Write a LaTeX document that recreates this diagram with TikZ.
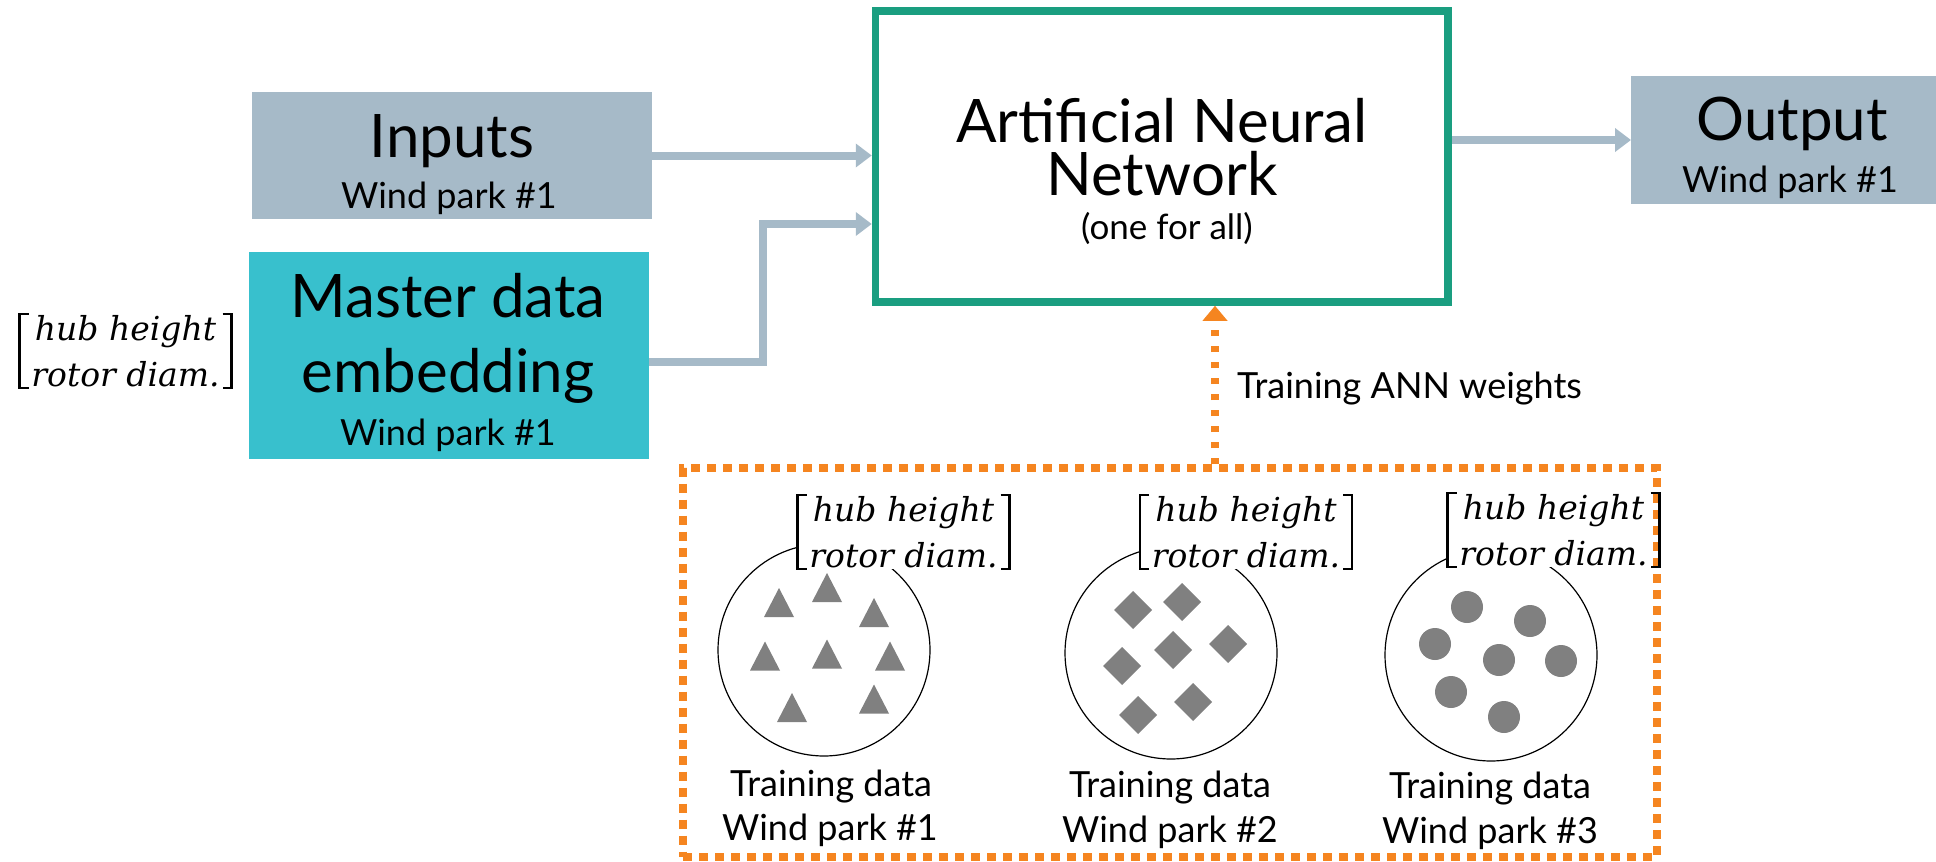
\documentclass[tikz,border=0pt]{standalone}
\usepackage{fontspec}
\setmainfont{Lato}
\newfontfamily\bracketfont{DejaVu Serif}
\usetikzlibrary{arrows.meta}
\definecolor{boxgray}{RGB}{166,186,200}
\definecolor{boxcyan}{RGB}{56,192,205}
\definecolor{anngreen}{RGB}{26,158,128}
\definecolor{trainorange}{RGB}{245,133,32}
\definecolor{shapegray}{RGB}{128,128,128}
\newcommand\drawbrackets[1]{%
  \draw[brkline] ([xshift=9pt]#1.north west) -- (#1.north west) -- (#1.south west) -- ([xshift=9pt]#1.south west);
  \draw[brkline] ([xshift=-9pt]#1.north east) -- (#1.north east) -- (#1.south east) -- ([xshift=-9pt]#1.south east);}
\tikzset{
  fillbox/.style={inner sep=0pt, outer sep=0pt},
  bigtext/.style={anchor=base, inner sep=0pt, font=\fontsize{60}{60}\selectfont},
  smalltext/.style={anchor=base, inner sep=0pt, font=\fontsize{36}{36}\selectfont},
  flow/.style={draw=boxgray, line width=8pt, -{Triangle[length=16pt,width=23pt]}},
  trainarrow/.style={draw=trainorange, line width=8pt, dash pattern=on 6pt off 10pt, -{Triangle[length=15pt,width=24pt]}},
  bracketnode/.style={inner sep=0pt, outer sep=0pt, minimum width=212pt, minimum height=74pt, align=center, font=\bracketfont\itshape\fontsize{33}{46}\selectfont},
  brkline/.style={draw=black, line width=2.5pt, line cap=butt, line join=miter},
  ring/.style={draw=black, line width=1.2pt, circle, minimum size=212pt, inner sep=0pt},
  trimark/.pic={\fill[shapegray] (-15,14.5) -- (15,14.5) -- (0,-14.5) -- cycle;},
  diamark/.pic={\fill[shapegray] (-19,0) -- (0,-19) -- (19,0) -- (0,19) -- cycle;},
  dotmark/.pic={\fill[shapegray] (0,0) circle[radius=16pt];}
}
\begin{document}
\begin{tikzpicture}[x=1pt,y=-1pt]
\useasboundingbox (0,0) rectangle (1936,862);
\clip (0,0) rectangle (1936,862);

% input boxes
\node[fillbox, fill=boxgray, minimum width=400pt, minimum height=127pt] (inputs) at (452,155.5) {};
\node[bigtext] (inputsT) at (452,157) {Inputs};
\node[smalltext] (inputsS) at (449,208) {Wind park \#1};

\node[fillbox, fill=boxcyan, minimum width=400pt, minimum height=207pt] (master) at (449,355.5) {};
\node[bigtext, align=center, font=\fontsize{60}{75}\selectfont] (masterT) at (448,392) {Master data\\embedding};
\node[smalltext] (masterS) at (448,445) {Wind park \#1};

\node[bracketnode] (brk0) at (125.5,351) {hub height\\rotor diam.};
\drawbrackets{brk0}

% ANN
\node[draw=anngreen, line width=7.5pt, minimum width=572.5pt, minimum height=291pt, inner sep=0pt] (ann) at (1161.75,156.5) {};
\node[bigtext, align=center, font=\fontsize{60}{53}\selectfont] (annT) at (1162,195) {Artificial Neural\\Network};
\node[anchor=base, inner sep=0pt, font=\fontsize{35}{35}\selectfont] (annS) at (1167,239) {(one for all)};

% output
\node[fillbox, fill=boxgray, minimum width=326pt, minimum height=128pt] (output) at (1794,140) {};
\node[bigtext] (outputT) at (1792,140) {Output};
\node[smalltext] (outputS) at (1790,192) {Wind park \#1};

% flows
\draw[flow] (inputs.east) -- (inputs.east -| ann.west);
\draw[flow] ([yshift=-6.5pt]master.east) -- ++(114,0) |- ([yshift=-67.5pt]ann.west);
\draw[flow] (output.west -| ann.east) -- (output.west);

% training data
\node[ring] (ring1) at (824,650) {};
\node[ring] (ring2) at (1171,653) {};
\node[ring] (ring3) at (1491,655) {};

\pic at (779,602.5) {trimark};
\pic at (827,587.5) {trimark};
\pic at (874,612.5) {trimark};
\pic at (765,656) {trimark};
\pic at (827,654) {trimark};
\pic at (890,656) {trimark};
\pic at (792,707.5) {trimark};
\pic at (874,699) {trimark};

\pic at (1133,610) {diamark};
\pic at (1182,602) {diamark};
\pic at (1228,644) {diamark};
\pic at (1173,650) {diamark};
\pic at (1122,666) {diamark};
\pic at (1193,702) {diamark};
\pic at (1138,715) {diamark};

\pic at (1467,607) {dotmark};
\pic at (1530,621) {dotmark};
\pic at (1435,644) {dotmark};
\pic at (1499,660) {dotmark};
\pic at (1561,661) {dotmark};
\pic at (1451,692) {dotmark};
\pic at (1504,717) {dotmark};

\node[bracketnode, fill=white] (brk1) at (903.5,532) {hub height\\rotor diam.};
\node[bracketnode, fill=white] (brk2) at (1246,532) {hub height\\rotor diam.};
\node[bracketnode, fill=white] (brk3) at (1553.5,530) {hub height\\rotor diam.};

\node[smalltext] (td1a) at (831,796) {Training data};
\node[smalltext] (td1b) at (830,840) {Wind park \#1};
\node[smalltext] (td2a) at (1170,797) {Training data};
\node[smalltext] (td2b) at (1170,842) {Wind park \#2};
\node[smalltext] (td3a) at (1490,798) {Training data};
\node[smalltext] (td3b) at (1490,843) {Wind park \#3};

\node[draw=trainorange, line width=8pt, dash pattern=on 9pt off 7pt, minimum width=974pt, minimum height=388.5pt, inner sep=0pt] (trainbox) at (1170,662.25) {};

\drawbrackets{brk1}
\drawbrackets{brk2}
\drawbrackets{brk3}

\coordinate (trainTop) at ([xshift=45pt]trainbox.north);
\draw[trainarrow] (trainTop) -- (trainTop |- ann.south);
\node[smalltext, anchor=base west] (trainLabel) at (1237,398) {Training ANN weights};
\end{tikzpicture}
\end{document}
